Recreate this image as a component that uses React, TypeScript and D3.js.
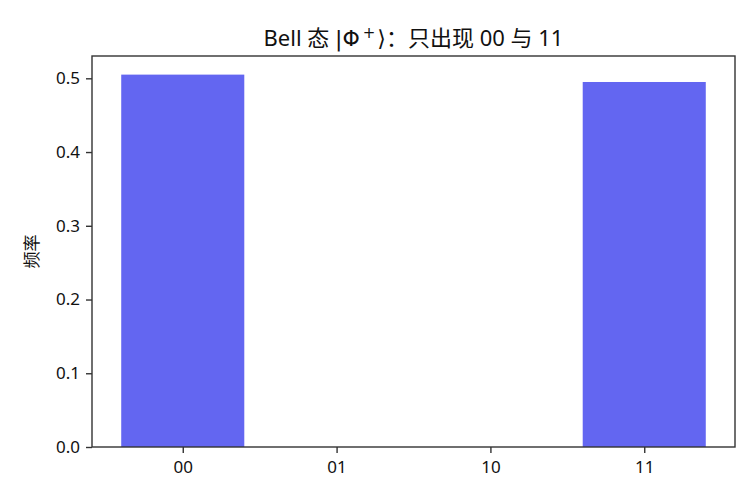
import React, { useEffect, useRef } from 'react';
import * as d3 from 'd3';

const states = ['00', '01', '10', '11'];
const freqs = [0.505, 0, 0, 0.495];
const yTicks = [0, 0.1, 0.2, 0.3, 0.4, 0.5];
const titleHead = 'Bell 态 ';
const titleKet = '|Φ';
const titleSup = '+';
const titleTail = '⟩：只出现 00 与 11';
const yLabel = '频率';

const FONT = '"Noto Sans", "Noto Sans CJK SC", sans-serif';
const MATH = '"DejaVu Sans", sans-serif';

const App: React.FC = () => {
    const svgRef = useRef<SVGSVGElement>(null);

    useEffect(() => {
        if (!svgRef.current) return;
        const W = 756;
        const H = 504;
        const margin = { top: 56, right: 21, bottom: 57, left: 92 };
        const width = W - margin.left - margin.right;
        const height = H - margin.top - margin.bottom;

        const svg = d3.select(svgRef.current);
        svg.selectAll('*').remove();
        svg.append('rect').attr('width', W).attr('height', H).attr('fill', 'white');

        const g = svg.append('g').attr('transform', `translate(${margin.left}, ${margin.top})`);

        // matplotlib-like x range: bars of width 0.8 plus 5% margins
        const lo = -0.4, hi = states.length - 1 + 0.4;
        const pad = (hi - lo) * 0.05;
        const x = d3.scaleLinear().domain([lo - pad, hi + pad]).range([0, width]);
        const y = d3.scaleLinear().domain([0, (d3.max(freqs) || 0) * 1.05]).range([height, 0]);

        // bars
        g.selectAll('.bar')
            .data(freqs)
            .enter()
            .append('rect')
            .attr('class', 'bar')
            .attr('x', (_, i) => x(i - 0.4))
            .attr('width', x(0.8) - x(0))
            .attr('y', d => y(d))
            .attr('height', d => height - y(d))
            .attr('fill', '#6366f1');

        // y axis
        const yAxis = g.append('g')
            .call(d3.axisLeft(y).tickValues(yTicks).tickFormat(d3.format('.1f')).tickSize(6).tickPadding(6));
        yAxis.select('.domain').remove();
        yAxis.selectAll('line').attr('stroke', '#333').attr('stroke-width', 1.4);
        yAxis.selectAll('text').attr('font-family', FONT).attr('font-size', 17).attr('fill', '#111');

        // x axis
        const xAxis = g.append('g')
            .attr('transform', `translate(0, ${height})`)
            .call(d3.axisBottom(x).tickValues(states.map((_, i) => i)).tickFormat((_, i) => states[i]).tickSize(6).tickPadding(8));
        xAxis.select('.domain').remove();
        xAxis.selectAll('line').attr('stroke', '#333').attr('stroke-width', 1.4);
        xAxis.selectAll('text').attr('font-family', FONT).attr('font-size', 17).attr('fill', '#111');

        // frame
        g.append('rect')
            .attr('width', width)
            .attr('height', height)
            .attr('fill', 'none')
            .attr('stroke', '#333')
            .attr('stroke-width', 1.4);

        // title
        const t = svg.append('text')
            .attr('x', margin.left + width / 2)
            .attr('y', 46)
            .attr('text-anchor', 'middle')
            .attr('font-family', FONT)
            .attr('font-size', 22)
            .attr('fill', '#111');
        t.append('tspan').text(titleHead);
        t.append('tspan').attr('font-family', MATH).text(titleKet);
        t.append('tspan').attr('font-family', MATH).attr('font-size', 15).attr('dx', 3).attr('dy', -8).text(titleSup);
        t.append('tspan').attr('font-family', MATH).attr('dx', 2).attr('dy', 8).text(titleTail.slice(0, 1));
        t.append('tspan').text(titleTail.slice(1));

        // y label
        svg.append('text')
            .attr('transform', `translate(38, ${margin.top + height / 2}) rotate(-90)`)
            .attr('text-anchor', 'middle')
            .attr('font-family', FONT)
            .attr('font-size', 17)
            .attr('fill', '#111')
            .text(yLabel);
    }, []);

    return (
        <svg ref={svgRef} width={756} height={504} style={{ position: 'absolute', left: 0, top: 0 }}></svg>
    );
};

export default App;
